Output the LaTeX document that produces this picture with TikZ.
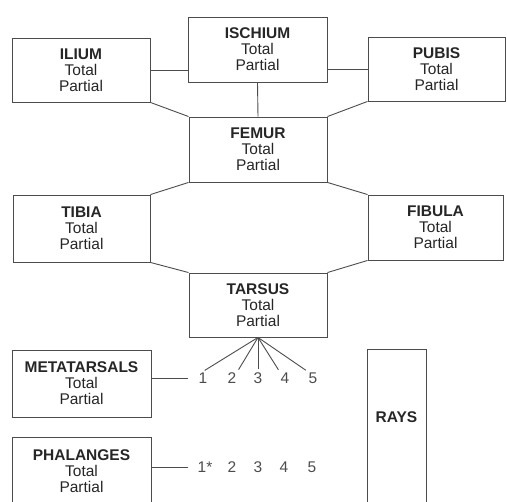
\documentclass[tikz,border=0pt]{standalone}
\usepackage{fontspec}
\setmainfont{Liberation Sans}

\begin{document}
\begin{tikzpicture}[x=1pt,y=-1pt,
    box/.style={draw=black!70,line width=0.9pt,align=center,inner sep=0pt,
      font=\fontsize{15.5}{16}\selectfont,text=black!85},
    num/.style={font=\fontsize{15.5}{16}\selectfont,text=black!70,inner sep=1pt},
    link/.style={draw=black!70,line width=0.9pt}]
    \useasboundingbox (0,0) rectangle (507,502);
    \clip (0,0) rectangle (507,502);
    % pelvis
    \node[box,minimum width=138,minimum height=64] (ilium) at (81,70) {\textbf{ILIUM}\\Total\\Partial};
    \node[box,minimum width=139,minimum height=65] (ischium) at (257.5,49.5) {\textbf{ISCHIUM}\\Total\\Partial};
    \node[box,minimum width=137,minimum height=64] (pubis) at (436.5,69) {\textbf{PUBIS}\\Total\\Partial};
    \draw[link] (ilium.east) -- (ilium.east -| ischium.west);
    \draw[link] (pubis.west) -- (pubis.west -| ischium.east);
    % leg
    \node[box,minimum width=138,minimum height=65] (femur) at (258,149.5) {\textbf{FEMUR}\\Total\\Partial};
    \node[box,minimum width=137,minimum height=67] (tibia) at (81.5,228.5) {\textbf{TIBIA}\\Total\\Partial};
    \node[box,minimum width=135,minimum height=65] (fibula) at (435.5,227.5) {\textbf{FIBULA}\\Total\\Partial};
    \node[box,minimum width=138,minimum height=64] (tarsus) at (258,305) {\textbf{TARSUS}\\Total\\Partial};
    \draw[link] (ischium.south) -- (femur.north);
    \draw[link] (ilium.south east) -- (femur.north west);
    \draw[link] (pubis.south west) -- (femur.north east);
    \draw[link] (femur.south west) -- (tibia.north east);
    \draw[link] (femur.south east) -- (fibula.north west);
    \draw[link] (tibia.south east) -- (tarsus.north west);
    \draw[link] (fibula.south west) -- (tarsus.north east);
    % foot
    \node[box,minimum width=139,minimum height=67] (meta) at (81.5,383.5) {\textbf{METATARSALS}\\Total\\Partial};
    \node[box,minimum width=139,minimum height=68] (phal) at (81.5,471) {\textbf{PHALANGES}\\Total\\Partial};
    \foreach \k/\x in {1/203,2/232,3/258,4/285,5/313}{\node[num] (m\k) at (\x,378) {\k};}
    \node[num] (p1) at (205,467) {1*};
    \foreach \k/\x in {2/232,3/258,4/284,5/312}{\node[num] (p\k) at (\x,467) {\k};}
    \foreach \k/\a in {1/north,2/north east,3/north,4/north west,5/north west}{\draw[link,shorten >=2pt] (tarsus.south) -- (m\k.\a);}
    \draw[link,shorten >=9pt] (meta.east |- m1) -- (m1.west);
    \draw[link,shorten >=8pt] (phal.east |- p1) -- (p1.west);
    % rays
    \node[box,minimum width=59,minimum height=200,anchor=north] (rays) at (396.5,349) {};
    \node[box,draw=none] (raystext) at (396.5,417) {\textbf{RAYS}};
  \end{tikzpicture}
\end{document}
